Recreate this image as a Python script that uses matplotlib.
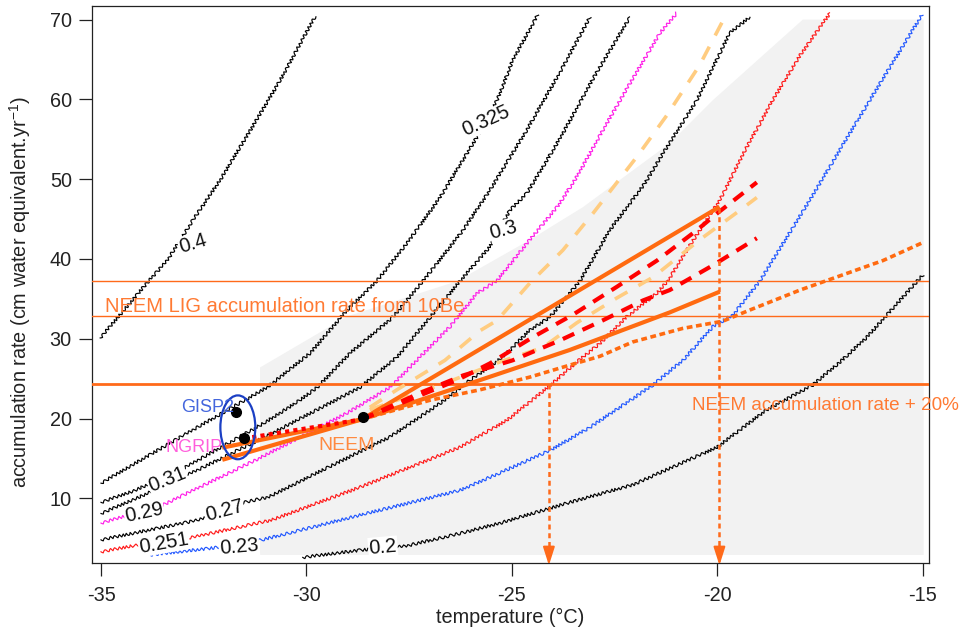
import numpy as np
import matplotlib
matplotlib.use('Agg')
import matplotlib.pyplot as plt
from matplotlib.patches import Ellipse, Polygon

plt.rcParams['font.family'] = ['Liberation Sans', 'DejaVu Sans']
plt.rcParams['axes.unicode_minus'] = False
plt.rcParams['mathtext.default'] = 'regular'

# --- data (temperature degC, accumulation cm w.e./yr) ---
# grey envelope
grey_x = [-31.13, -29.01, -26.34, -24.56, -23.27, -21.16, -20.11, -17.92, -14.98, -14.98, -31.13]
grey_y = [26.4, 32.8, 37.2, 42.4, 46.5, 54.5, 59.9, 70.0, 70.0, 2.9, 2.9]

# iso-lines
c040_x = [-35.02, -34.37, -33.88, -33.39, -32.76, -32.1, -31.37, -30.64, -29.79]
c040_y = [30.1, 34.0, 37.0, 39.8, 44.9, 49.9, 56.1, 62.4, 70.4]
c0325_x = [-35.0, -32.96, -30.96, -29.91, -29.01, -28.28, -27.55, -26.75, -25.85, -25.36, -24.98, -24.37]
c0325_y = [11.9, 18.0, 23.9, 28.2, 33.6, 37.3, 42.0, 47.7, 55.3, 59.9, 64.9, 70.6]
c031_x = [-35.0, -34.17, -32.98, -31.01, -30.16, -29.74, -28.94, -27.9, -27.17, -26.19, -25.54, -24.68, -23.83, -23.1]
c031_y = [9.5, 11.0, 13.8, 19.5, 22.3, 23.9, 28.2, 32.7, 37.2, 43.6, 48.6, 55.8, 63.4, 70.3]
c030_x = [-35.0, -34.05, -32.59, -31.01, -29.67, -28.7, -27.8, -26.99, -26.27, -25.54, -25.05, -24.64, -23.83, -22.98, -22.13]
c030_y = [8.1, 10.2, 13.7, 17.7, 21.3, 23.9, 27.7, 32.7, 37.2, 41.5, 46.1, 48.2, 55.1, 63.0, 70.3]
c029_x = [-35.0, -33.52, -31.16, -29.01, -27.97, -26.51, -25.85, -25.36, -24.63, -23.9, -23.42, -22.79, -22.13, -21.4, -20.99]
c029_y = [6.9, 9.1, 15.0, 20.7, 23.9, 31.5, 35.7, 37.3, 42.0, 46.5, 50.3, 56.1, 62.0, 68.3, 70.8]
c027_x = [-35.0, -32.62, -31.5, -30.91, -29.43, -27.97, -26.75, -26.02, -25.22, -24.56, -24.08, -23.35, -22.62, -21.76, -21.28, -20.5, -19.7, -19.21]
c027_y = [4.8, 7.3, 9.5, 10.2, 14.0, 17.7, 21.9, 24.8, 27.7, 31.1, 32.7, 37.2, 43.6, 49.5, 53.6, 59.9, 68.3, 70.3]
c0251_x = [-35.0, -34.17, -32.79, -30.84, -28.7, -26.27, -25.12, -24.15, -23.42, -22.86, -22.2, -21.47, -21.2, -20.67, -19.94, -19.33, -18.65, -17.99, -17.26]
c0251_y = [3.3, 4.1, 5.1, 7.3, 11.4, 16.4, 19.8, 23.8, 27.1, 29.4, 32.8, 35.7, 37.3, 41.7, 47.4, 53.6, 59.9, 65.5, 70.8]
c023_x = [-33.81, -32.23, -31.08, -28.7, -26.27, -25.29, -24.08, -23.1, -21.57, -20.84, -20.11, -19.62, -18.97, -17.75, -16.29, -15.02]
c023_y = [2.9, 3.8, 4.8, 7.9, 11.0, 13.2, 16.0, 18.9, 24.2, 27.3, 31.5, 33.0, 37.2, 47.4, 59.9, 70.6]
c020_x = [-30.09, -28.7, -27.6, -26.27, -25.29, -23.66, -22.06, -20.01, -18.8, -17.68, -16.97, -16.36, -15.0]
c020_y = [2.6, 3.5, 4.0, 5.6, 6.9, 9.4, 11.7, 16.4, 21.1, 24.2, 27.3, 30.2, 38.0]
levels = ['0.4', '0.325', '0.31', '0.3', '0.29', '0.27', '0.251', '0.23', '0.2']

# scenarios
orange_up_x = [-32.0, -28.65, -19.99]
orange_up_y = [16.4, 19.9, 46.4]
orange_lo_x = [-32.0, -28.65, -26.02, -23.59, -21.16, -19.99]
orange_lo_y = [14.9, 19.9, 24.4, 28.6, 33.3, 35.8]
red_up_x = [-28.65, -26.34, -25.54, -24.49, -23.52, -22.45, -21.47, -20.5, -20.01, -19.04]
red_up_y = [19.9, 24.8, 26.9, 30.2, 33.0, 36.5, 39.8, 43.6, 45.7, 49.6]
red_lo_x = [-28.65, -27.24, -26.19, -24.98, -23.83, -22.79, -21.81, -21.16, -20.11, -19.04]
red_lo_y = [19.9, 23.2, 25.4, 27.3, 29.8, 32.3, 34.8, 36.1, 39.2, 42.6]
red_dot_x = [-31.52, -28.65]
red_dot_y = [17.5, 19.9]
ltor_up_x = [-28.46, -27.8, -26.63, -25.78, -25.36, -24.56, -23.76, -23.03, -21.96, -21.23, -20.43, -19.77]
ltor_up_y = [21.4, 23.6, 27.3, 31.0, 32.3, 37.0, 41.1, 45.7, 52.8, 58.0, 64.3, 70.8]
ltor_lo_x = [-28.46, -26.75, -25.29, -24.25, -23.42, -22.45, -21.57, -20.43, -19.45, -19.04]
ltor_lo_y = [21.1, 24.2, 27.1, 28.9, 32.0, 35.1, 37.7, 42.4, 46.1, 47.7]
ordot_x = [-28.65, -26.99, -25.78, -24.56, -23.59, -22.86, -22.06, -20.84, -19.87, -19.21, -17.99, -15.97, -14.98]
ordot_y = [19.9, 22.3, 23.6, 25.2, 26.7, 27.8, 29.6, 31.3, 32.2, 33.6, 36.1, 39.8, 42.1]

# ice core sites
site_names = ['GISP2', 'NGRIP', 'NEEM']
site_x = [-31.72, -31.52, -28.63]
site_y = [20.8, 17.5, 20.2]

# reference accumulation levels
lig_low, lig_high = 32.9, 37.2
neem_plus20 = 24.3
arrow_x = [-24.1, -19.95]
arrow_top = [24.3, 46.4]

# --- figure ---
fig = plt.figure(figsize=(9.62, 6.31), dpi=100)
ax = fig.add_axes([0.0956, 0.1078, 0.8701, 0.8827])
ax.set_xlim(-35.22, -14.85)
ax.set_ylim(1.9, 71.7)

ax.add_patch(Polygon(np.column_stack([grey_x, grey_y]), closed=True,
                     fc='#f2f2f2', ec='none', zorder=0))

contours = [(c040_x, c040_y, 'black'), (c0325_x, c0325_y, 'black'),
            (c031_x, c031_y, 'black'), (c030_x, c030_y, 'black'),
            (c029_x, c029_y, '#ff1ee8'), (c027_x, c027_y, 'black'),
            (c0251_x, c0251_y, '#ff1a1a'), (c023_x, c023_y, '#2258ff'),
            (c020_x, c020_y, 'black')]
for xs, ys, col in contours:
    ln, = ax.plot(xs, ys, color=col, lw=0.85, zorder=2)
    ln.set_sketch_params(scale=1.5, length=5, randomness=2)

# label spots (x, y, rotation) in the same order as levels
label_pos = [(-32.76, 41.9, 17), (-25.63, 57.3, 24), (-33.39, 12.4, 22),
             (-25.2, 43.6, 15), (-33.95, 8.2, 12), (-32.0, 8.4, 15),
             (-33.47, 4.4, 10), (-31.64, 3.9, 5), (-28.14, 3.9, 5)]
for txt, (lx, ly, rot) in zip(levels, label_pos):
    ax.text(lx, ly, txt, rotation=rot, ha='center', va='center',
            rotation_mode='anchor', fontsize=14.5, color='#111111',
            bbox=dict(fc='white', ec='none', pad=0.6), zorder=3)

hc = '#ff6a1a'
ax.axhline(lig_high, color=hc, lw=1.0, zorder=3)
ax.axhline(lig_low, color=hc, lw=1.0, zorder=3)
ax.axhline(neem_plus20, color=hc, lw=2.0, zorder=3)

ax.plot(ltor_up_x, ltor_up_y, color='#ffcc80', lw=2.6, ls=(0, (4, 3.5)), zorder=4)
ax.plot(ltor_lo_x, ltor_lo_y, color='#ffcc80', lw=2.6, ls=(0, (4, 3.5)), zorder=4)
ax.plot(orange_up_x, orange_up_y, color='#ff6a10', lw=3.0, zorder=5)
ax.plot(orange_lo_x, orange_lo_y, color='#ff6a10', lw=3.0, zorder=5)
ax.plot(ordot_x, ordot_y, color='#ff6a10', lw=2.6, ls=(0, (1.6, 1.0)), zorder=6)
ax.plot(red_up_x, red_up_y, color='#ff0000', lw=3.0, ls=(0, (3, 2.2)), zorder=6)
ax.plot(red_lo_x, red_lo_y, color='#ff0000', lw=3.0, ls=(0, (3, 2.2)), zorder=6)
ax.plot(red_dot_x, red_dot_y, color='#ff0000', lw=3.0, ls=(0, (1, 1)), zorder=6)

for xa, top in zip(arrow_x, arrow_top):
    ax.plot([xa, xa], [top, 3.2], color=hc, lw=1.8, ls=(0, (2, 1.5)), zorder=6)
    ax.annotate('', xy=(xa, 1.6), xytext=(xa, 3.4), annotation_clip=False,
                arrowprops=dict(arrowstyle='-|>,head_length=1.1,head_width=0.35',
                                color=hc, lw=1.5, shrinkA=0, shrinkB=0), zorder=6)

ax.plot(site_x, site_y, 'o', color='black', ms=7, zorder=8)
ax.add_patch(Ellipse((-31.67, 18.9), 0.85, 8.0, fill=False, ec='#1b3fc4', lw=1.6, zorder=7))

ax.text(-33.05, 20.8, site_names[0], color='#4466dd', fontsize=13, va='baseline', zorder=9)
ax.text(-33.44, 15.8, site_names[1], color='#ff5fdc', fontsize=13, va='baseline', zorder=9)
ax.text(-29.72, 16.0, site_names[2], color='#ff8a40', fontsize=14, va='baseline', zorder=9)
ax.text(-34.9, 33.3, 'NEEM LIG accumulation rate from 10Be', color='#ff7a33',
        fontsize=14.5, va='baseline', zorder=9)
ax.text(-20.62, 21.05, 'NEEM accumulation rate + 20%', color='#ff7a33',
        fontsize=13.6, va='baseline', zorder=9)

ax.set_xticks([-35, -30, -25, -20, -15])
ax.set_yticks([10, 20, 30, 40, 50, 60, 70])
ax.tick_params(direction='out', length=9.5, width=0.9, labelsize=14.3, colors='#222222')
ax.tick_params(axis='x', pad=7)
ax.tick_params(axis='y', pad=5)
for s in ax.spines.values():
    s.set_linewidth(0.9)
    s.set_color('#222222')

ax.set_xlabel('temperature (°C)', fontsize=14.3, color='#222222')
ax.set_ylabel(r'accumulation rate (cm water equivalent.yr$^{-1}$)', fontsize=14.3, color='#222222')
ax.xaxis.set_label_coords(0.5, -0.08)
ax.yaxis.set_label_coords(-0.07, 0.487)

fig.savefig('out.png', dpi=100)
